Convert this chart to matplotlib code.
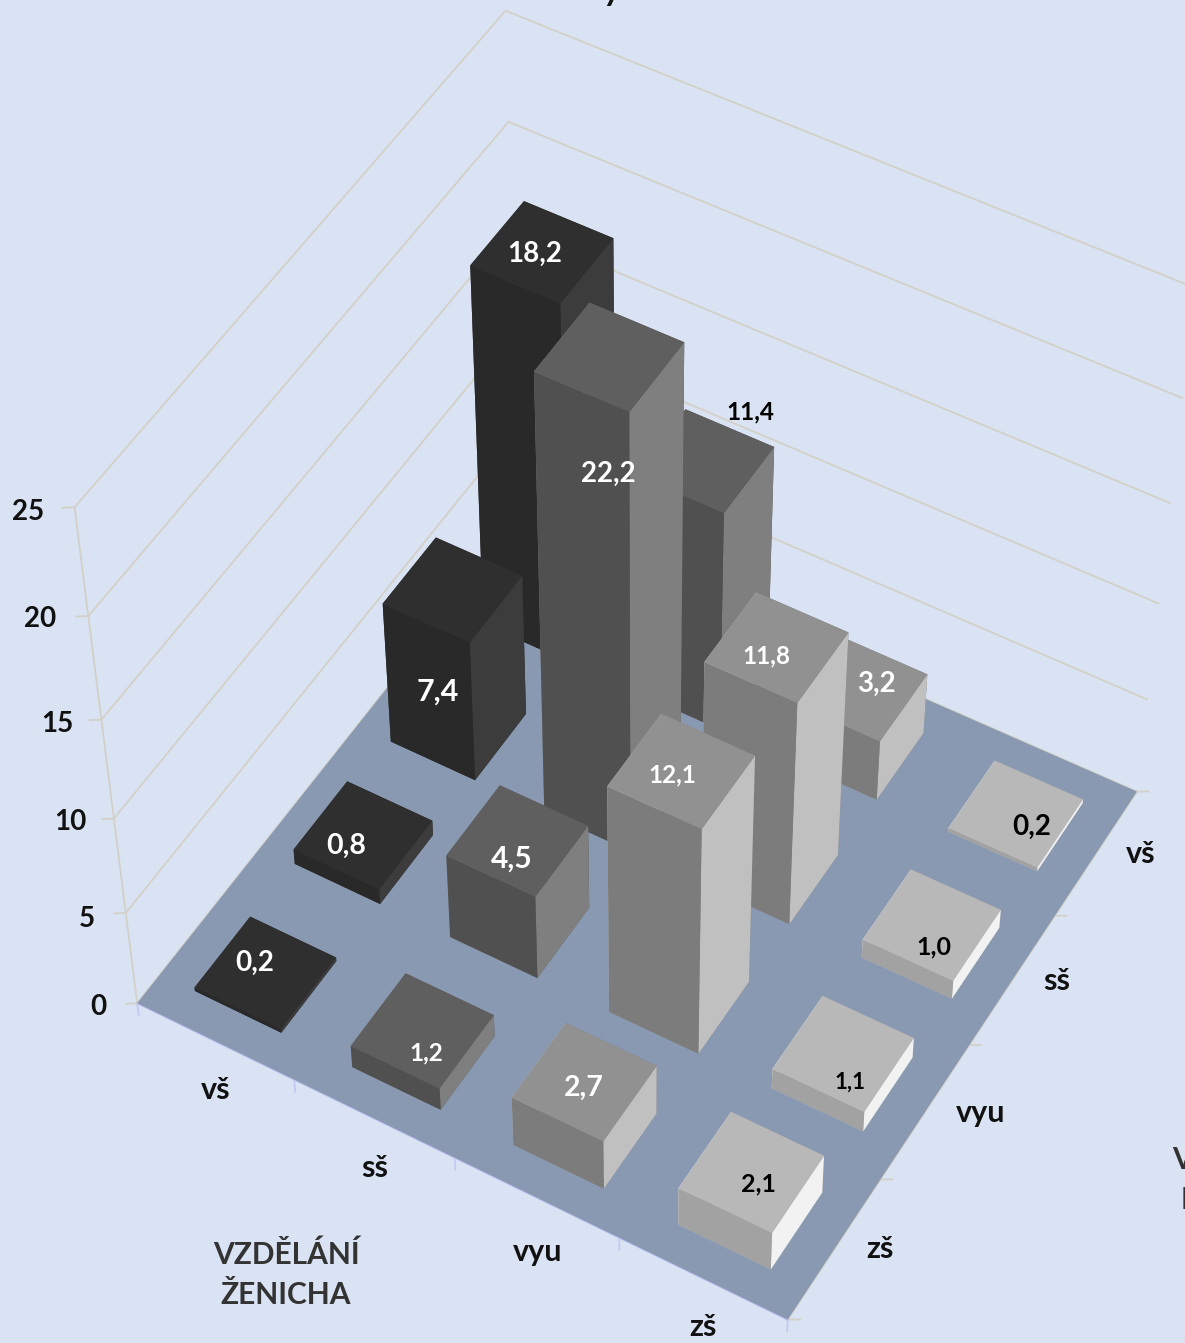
import numpy as np
import matplotlib
matplotlib.use('Agg')
import matplotlib.pyplot as plt
from mpl_toolkits.mplot3d.art3d import Poly3DCollection

plt.rcParams['font.family'] = ['Lato', 'DejaVu Sans']

W, H = 1185, 1343

# rows = bride education (zš at the front edge, vš at the back), columns = groom education
groom = ['vš', 'sš', 'vyu', 'zš']
bride = ['zš', 'vyu', 'sš', 'vš']
zs_row = [0.2, 1.2, 2.7, 2.1]
vyu_row = [0.8, 4.5, 12.1, 1.1]
ss_row = [7.4, 22.2, 11.8, 1.0]
vs_row = [18.2, 11.4, 3.2, 0.2]
values = [zs_row, vyu_row, ss_row, vs_row]
z_ticks = [0, 5, 10, 15, 20, 25]

# face colours per groom column: top, front, side
top_col = ['#2f2f2f', '#5f5f5f', '#919191', '#b8b8b8']
front_col = ['#292929', '#505050', '#7c7c7c', '#a2a2a2']
side_col = ['#3c3c3c', '#7f7f7f', '#c0c0c0', '#f2f2f2']

bg = '#dae3f3'
floor_col = '#8a99b2'
grid_col = '#d3d0c8'
gap = 0.224

fig = plt.figure(figsize=(W / 100, H / 100), dpi=100, facecolor=bg)
# axes placed so the projected box lands on the picture
L, S, Bot = -23.22, 1302.22, 1328.73
ax = fig.add_axes([L / W, 1 - Bot / H, S / W, S / H], projection='3d')
ax.set_axis_off()
ax.patch.set_visible(False)
ax.computed_zorder = False
ax.set_xlim(0, 4)
ax.set_ylim(0, 4)
ax.set_zlim(0, 25)
ax.set_box_aspect((0.9962, 0.9951, 1.0))
ax.view_init(50.093, -59.976, -0.045)
ax.set_proj_type('persp', focal_length=0.7379)


def line3d(xs, ys, zs, color=grid_col, lw=1.3):
    ln, = ax.plot(xs, ys, zs, color=color, lw=lw, zorder=1, solid_capstyle='butt')
    ln.set_clip_on(False)


# walls
for z in z_ticks[1:]:
    line3d([0, 0, 4], [0, 4, 4], [z, z, z])
    line3d([-0.053, 0], [-0.035, 0], [z, z])
line3d([0, 0], [0, 0], [0, 25])
line3d([-0.053, 0], [-0.035, 0], [0, 0])

# floor
floor = Poly3DCollection([[(0, 0, 0), (4, 0, 0), (4, 4, 0), (0, 4, 0)]],
                         facecolors=floor_col, edgecolors='none', zorder=2)
floor.set_clip_on(False)
ax.add_collection3d(floor)
line3d([0, 0], [0, 4], [0, 0])
line3d([0, 4], [4, 4], [0, 0])
line3d([4, 4], [0, 4], [0, 0])
line3d([0, 4], [0, 0], [0, 0], color='#b9bdf2')
for i in range(5):
    line3d([i, i], [0, 0], [0, -0.75], color='#c4c8f2')
    line3d([4, 4.0585], [i, i + 0.0355], [0, 0])

# bars, back row first so the front ones paint over
order = 3
for r in range(3, -1, -1):
    for c in range(4):
        b = ax.bar3d(c + gap, r + gap, 0, 1 - 2 * gap, 1 - 2 * gap, values[r][c],
                     color=[top_col[c], top_col[c], front_col[c], front_col[c], side_col[c], side_col[c]],
                     shade=False, zsort='average', linewidth=0)
        b.set_zorder(order)
        b.set_clip_on(False)
        order += 1


def put(px, py, s, size=15, color='#111111', weight='bold'):
    fig.text(px / W, 1 - (py + 2) / H, s, ha='center', va='center', fontsize=size, color=color, fontweight=weight)


def fmt(v):
    return ('%.1f' % v).replace('.', ',')


# value labels: pixel centre, size, colour for each bar
label_px = [[(255, 961), (426, 1051), (584, 1086), (758, 1182)],
            [(346, 844), (512, 857), (672, 773), (850, 1080)],
            [(438, 690), (608, 472), (766, 654), (934, 945)],
            [(535, 252), (750, 410), (876, 682), (1032, 825)]]
label_size = [[20, 17.5, 20.5, 18],
              [20.5, 21.5, 17.5, 16],
              [22, 20, 17.5, 18],
              [20, 17.5, 20, 20]]
for r in range(4):
    for c in range(4):
        col = 'black' if c == 3 or (r == 3 and c == 1) else 'white'
        put(label_px[r][c][0], label_px[r][c][1], fmt(values[r][c]), size=label_size[r][c], color=col)

z_px = [(98, 1005), (87, 917), (70, 820), (57, 722), (40, 617), (28, 510)]
for t, p in zip(z_ticks, z_px):
    put(p[0], p[1], str(t), size=20)

groom_px = [(216, 1088), (375, 1166), (538, 1250), (703, 1325)]
for s, p in zip(groom, groom_px):
    put(p[0], p[1], s, size=22)
bride_px = [(880, 1247), (981, 1111), (1057, 979), (1141, 852)]
for s, p in zip(bride, bride_px):
    put(p[0], p[1], s, size=22)

put(286, 1253, 'VZDĚLÁNÍ', size=21.5, color='#333333')
put(286, 1293, 'ŽENICHA', size=21.5, color='#333333')
fig.text(1172 / W, 1 - 1160 / H, 'VZDĚLÁNÍ', ha='left', va='center', fontsize=21.5, color='#333333', fontweight='bold')
fig.text(1181 / W, 1 - 1200 / H, 'NEVĚSTY', ha='left', va='center', fontsize=21.5, color='#333333', fontweight='bold')
# title is cut off by the top edge, only a descender shows
put(612, -11, 'y', size=24)

fig.savefig('out.png', dpi=100, facecolor=bg)
